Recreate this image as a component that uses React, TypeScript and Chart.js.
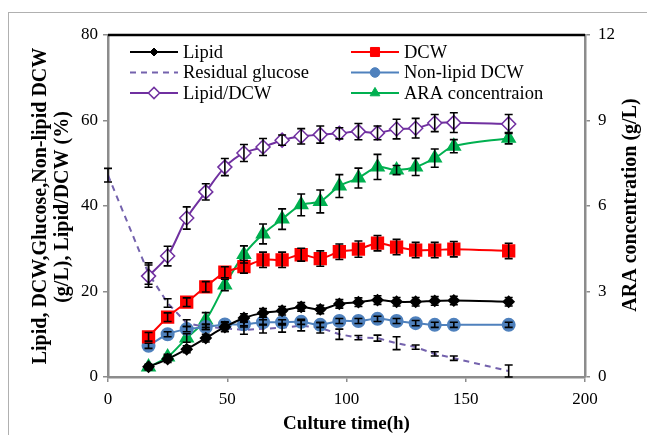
import React, { useEffect, useRef } from "react";
import { Chart, registerables } from "chart.js";

Chart.register(...registerables);

const time = [17, 25, 33, 41, 49, 57, 65, 73, 81, 89, 97, 105, 113, 121, 129, 137, 145, 168];
const glucoseTime = [0, 17, 25, 33, 41, 49, 57, 65, 73, 81, 89, 97, 105, 113, 121, 129, 137, 145, 168];

const lipid = [2.4, 4.2, 6.5, 9.1, 11.7, 13.8, 15.0, 15.5, 16.4, 15.8, 17.1, 17.5, 18.0, 17.6, 17.6, 17.8, 17.9, 17.6];
const lipidErr = [0.5, 0.8, 0.8, 0.9, 1, 1, 1, 1, 1, 1, 1, 1, 1, 1, 1, 1, 1, 1];
const dcw = [9.4, 14.0, 17.5, 21.1, 24.5, 25.8, 27.4, 27.4, 28.6, 27.7, 29.3, 29.9, 31.3, 30.4, 29.7, 29.7, 29.9, 29.5];
const dcwErr = [1, 1, 1, 1.2, 1.3, 1.5, 1.8, 1.8, 1.5, 1.8, 1.8, 1.9, 1.8, 1.8, 1.8, 1.8, 1.8, 1.8];
const nonLipid = [7.3, 10.0, 11.2, 11.7, 12.3, 12.3, 12.8, 12.8, 12.9, 12.2, 13.1, 13.1, 13.6, 13.1, 12.6, 12.2, 12.2, 12.2];
const nonLipidErr = [0.6, 0.6, 0.6, 0.6, 0.6, 0.6, 0.6, 0.6, 0.6, 0.6, 0.6, 0.6, 0.6, 0.6, 0.6, 0.6, 0.6, 0.6];
const ratio = [23.6, 28.3, 37.2, 43.3, 49.1, 52.4, 53.8, 55.4, 56.3, 56.7, 57.0, 57.4, 57.1, 58.0, 58.2, 59.4, 59.5, 59.2];
const ratioErr = [2.6, 2.3, 2.6, 1.9, 2, 2, 2, 1.2, 1.8, 2, 1.3, 1.9, 1.6, 2.3, 2.3, 2, 2.3, 2.2];
const ara = [0.35, 0.7, 1.37, 2.0, 3.23, 4.3, 5.02, 5.54, 6.04, 6.16, 6.7, 6.98, 7.37, 7.26, 7.37, 7.68, 8.1, 8.38];
const araErr = [0.1, 0.1, 0.15, 0.26, 0.2, 0.3, 0.35, 0.36, 0.38, 0.4, 0.4, 0.35, 0.44, 0.16, 0.3, 0.32, 0.23, 0.2];
const glucose = [47.2, 24.2, 17.3, 12.6, 11.7, 11.4, 11.0, 11.3, 11.5, 12.0, 11.5, 10.0, 9.2, 9.1, 7.9, 7.0, 5.4, 4.4, 1.4];
const glucoseErr = [1.6, 2.5, 1, 0.8, 0.6, 0.8, 1, 1, 1, 1.2, 1.2, 1.2, 0.5, 0.7, 1.5, 0.5, 0.5, 0.5, 1.4];

const xTicks = [0, 50, 100, 150, 200];
const yTicks = [0, 20, 40, 60, 80];
const y1Ticks = [0, 3, 6, 9, 12];

const FONT = "'Liberation Serif', 'Times New Roman', serif";
const C = {
  lipid: "#000000",
  dcw: "#ff0000",
  nonLipid: "#4f81bd",
  ratio: "#7030a0",
  ara: "#00b050",
  glucose: "#7462ad",
};

const pts = (xs: number[], ys: number[]) => xs.map((x, i) => ({ x, y: ys[i] }));

function drawMarker(ctx: CanvasRenderingContext2D, style: string, r: number, x: number, y: number, fill: string, stroke: string, bw: number) {
  ctx.save();
  ctx.fillStyle = fill;
  ctx.strokeStyle = stroke;
  ctx.lineWidth = bw;
  ctx.beginPath();
  if (style === "circle") {
    ctx.arc(x, y, r, 0, Math.PI * 2);
  } else if (style === "rect") {
    const s = r * Math.SQRT1_2;
    ctx.rect(x - s, y - s, 2 * s, 2 * s);
  } else if (style === "rectRot") {
    ctx.moveTo(x, y - r);
    ctx.lineTo(x + r, y);
    ctx.lineTo(x, y + r);
    ctx.lineTo(x - r, y);
    ctx.closePath();
  } else if (style === "triangle") {
    ctx.moveTo(x, y - r);
    ctx.lineTo(x + r * 0.866, y + r * 0.5);
    ctx.lineTo(x - r * 0.866, y + r * 0.5);
    ctx.closePath();
  }
  ctx.fill();
  ctx.stroke();
  ctx.restore();
}

const extrasPlugin = {
  id: "extras",
  afterDatasetsDraw(chart: any) {
    const ctx = chart.ctx;
    ctx.save();
    ctx.strokeStyle = "#000";
    ctx.lineWidth = 1.6;
    chart.data.datasets.forEach((ds: any) => {
      if (!ds.err) return;
      const ys = chart.scales[ds.yAxisID];
      const xs = chart.scales.x;
      ds.data.forEach((p: any, i: number) => {
        const e = ds.err[i];
        const px = xs.getPixelForValue(p.x);
        const top = ys.getPixelForValue(p.y + e);
        const bot = Math.min(ys.getPixelForValue(Math.max(p.y - e, 0)), chart.chartArea.bottom);
        ctx.beginPath();
        ctx.moveTo(px, top);
        ctx.lineTo(px, bot);
        ctx.moveTo(px - 4, top);
        ctx.lineTo(px + 4, top);
        ctx.moveTo(px - 4, bot);
        ctx.lineTo(px + 4, bot);
        ctx.stroke();
      });
    });
    ctx.restore();
  },
  afterDraw(chart: any) {
    const ctx = chart.ctx;
    const a = chart.chartArea;
    ctx.save();
    ctx.strokeStyle = "#000";
    ctx.lineWidth = 2.5;
    ctx.beginPath();
    ctx.moveTo(a.left, a.top);
    ctx.lineTo(a.right, a.top);
    ctx.stroke();
    const entries = [
      { label: "Lipid", ds: 0, col: 0, row: 0 },
      { label: "Residual glucose", ds: 5, col: 0, row: 1 },
      { label: "Lipid/DCW", ds: 3, col: 0, row: 2 },
      { label: "DCW", ds: 1, col: 1, row: 0 },
      { label: "Non-lipid DCW", ds: 2, col: 1, row: 1 },
      { label: "ARA concentraion", ds: 4, col: 1, row: 2 },
    ];
    ctx.font = `18.5px ${FONT}`;
    ctx.textBaseline = "middle";
    ctx.textAlign = "left";
    entries.forEach((e) => {
      const ds = chart.data.datasets[e.ds];
      const x0 = e.col === 0 ? a.left + 22 : a.left + 243;
      const y = a.top + 17 + e.row * 20.5;
      ctx.strokeStyle = ds.borderColor;
      ctx.lineWidth = 2;
      ctx.setLineDash(ds.borderDash || []);
      ctx.beginPath();
      ctx.moveTo(x0, y);
      ctx.lineTo(x0 + 48, y);
      ctx.stroke();
      ctx.setLineDash([]);
      if (ds.pointRadius > 0) {
        drawMarker(ctx, ds.pointStyle, ds.pointRadius * 0.8, x0 + 24, y, ds.pointBackgroundColor, ds.pointBorderColor, ds.pointBorderWidth || 1);
      }
      ctx.fillStyle = "#000";
      ctx.fillText(e.label, x0 + 53, y + 1);
    });

    // titles
    ctx.font = `bold 19px ${FONT}`;
    ctx.textAlign = "center";
    ctx.textBaseline = "middle";
    ctx.fillText("Culture time(h)", (a.left + a.right) / 2, 424);
    const rot = (txt: string, x: number, cy: number, size: number) => {
      ctx.save();
      ctx.font = `bold ${size}px ${FONT}`;
      ctx.translate(x, cy);
      ctx.rotate(-Math.PI / 2);
      ctx.fillText(txt, 0, 0);
      ctx.restore();
    };
    rot("Lipid, DCW,Glucose,Non-lipid DCW", 41, 206, 20);
    rot("(g/L), Lipid/DCW (%)", 63, 207, 20);
    rot("ARA concentration (g/L)", 631, 205, 20);
    ctx.restore();
  },
};

export default function App() {
  const ref = useRef<HTMLCanvasElement>(null);
  useEffect(() => {
    document.body.style.margin = "0";
    const mk = (label: string, xs: number[], ys: number[], err: number[], color: string, extra: any) => ({
      label,
      data: pts(xs, ys),
      err,
      borderColor: color,
      backgroundColor: color,
      pointBackgroundColor: color,
      pointBorderColor: color,
      borderWidth: 2,
      tension: 0.3,
      yAxisID: "y",
      ...extra,
    });
    const datasets: any[] = [
      mk("Lipid", time, lipid, lipidErr, C.lipid, { pointStyle: "rectRot", pointRadius: 5 }),
      mk("DCW", time, dcw, dcwErr, C.dcw, { pointStyle: "rect", pointRadius: 8 }),
      mk("Non-lipid DCW", time, nonLipid, nonLipidErr, C.nonLipid, { pointStyle: "circle", pointRadius: 6 }),
      mk("Lipid/DCW", time, ratio, ratioErr, C.ratio, {
        pointStyle: "rectRot",
        pointRadius: 7,
        pointBackgroundColor: "#ffffff",
        backgroundColor: "#ffffff",
        pointBorderWidth: 1.5,
      }),
      mk("ARA concentraion", time, ara, araErr, C.ara, { pointStyle: "triangle", pointRadius: 7, yAxisID: "y1" }),
      mk("Residual glucose", glucoseTime, glucose, glucoseErr, C.glucose, {
        pointRadius: 0,
        borderDash: [6, 5],
        tension: 0,
      }),
    ];

    const tickFont = { family: FONT, size: 17 };
    const axisCommon = {
      grid: { drawOnChartArea: false, drawTicks: true, tickLength: 5, color: "#8c8c8c", lineWidth: 1.5 },
      border: { display: true, color: "#8c8c8c", width: 2.5 },
    };
    const chart = new Chart(ref.current!, {
      type: "line",
      data: { datasets },
      options: {
        animation: false,
        responsive: false,
        devicePixelRatio: 1,
        layout: { padding: { top: 35, left: 0, right: 0, bottom: 0 } },
        plugins: { legend: { display: false }, tooltip: { enabled: false } },
        scales: {
          x: {
            type: "linear",
            min: 0,
            max: 200,
            afterBuildTicks: (s: any) => {
              s.ticks = xTicks.map((v) => ({ value: v }));
            },
            afterFit: (s: any) => {
              s.height = 58;
            },
            ticks: { font: tickFont, color: "#000", padding: 7 },
            ...axisCommon,
          },
          y: {
            position: "left",
            min: 0,
            max: 80,
            afterBuildTicks: (s: any) => {
              s.ticks = yTicks.map((v) => ({ value: v }));
            },
            afterFit: (s: any) => {
              s.width = 108;
            },
            ticks: { font: tickFont, color: "#000", padding: 5 },
            ...axisCommon,
          },
          y1: {
            position: "right",
            min: 0,
            max: 12,
            afterBuildTicks: (s: any) => {
              s.ticks = y1Ticks.map((v) => ({ value: v }));
            },
            afterFit: (s: any) => {
              s.width = 62;
            },
            ticks: { font: tickFont, color: "#000", padding: 8 },
            ...axisCommon,
          },
        },
      } as any,
      plugins: [extrasPlugin],
    });
    return () => chart.destroy();
  }, []);
  return (
    <div style={{ position: "absolute", left: 0, top: 0, width: 647, height: 435, background: "#fff", overflow: "hidden" }}>
      <div
        style={{
          position: "absolute",
          left: 8,
          top: 12,
          width: 700,
          height: 500,
          borderTop: "1px solid #b0b0b0",
          borderLeft: "1px solid #b0b0b0",
        }}
      />
      <canvas ref={ref} width={647} height={435} style={{ position: "absolute", left: 0, top: 0 }} />
    </div>
  );
}
